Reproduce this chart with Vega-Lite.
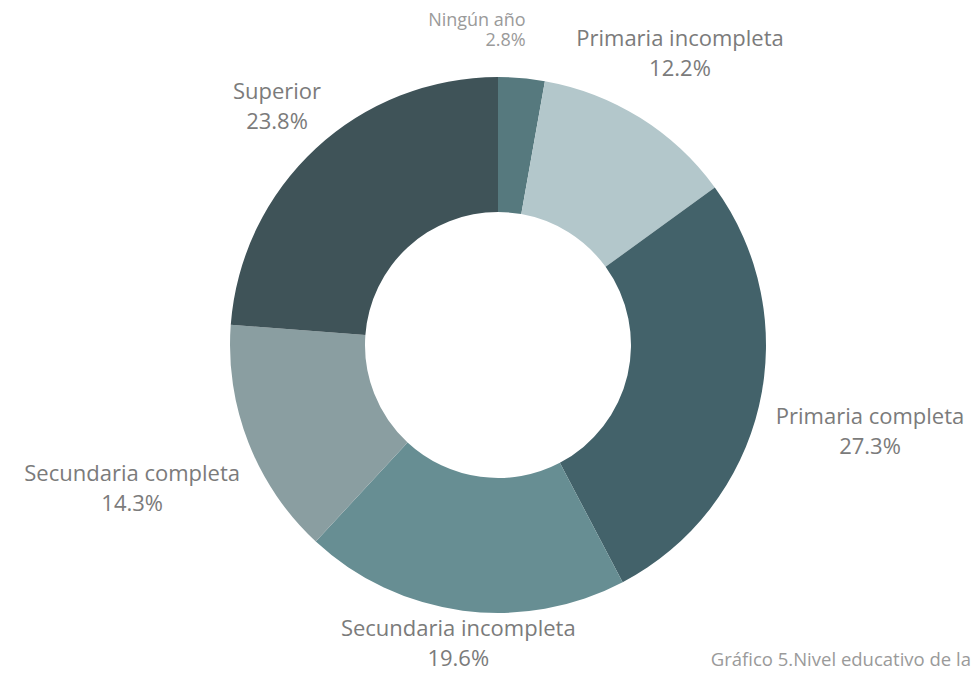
{
  "$schema": "https://vega.github.io/schema/vega-lite/v6.json",
  "autosize": "none",
  "width": 946,
  "height": 600,
  "padding": {"left": 25, "top": 45, "right": 0, "bottom": 29},
  "background": "white",
  "title": {"text": "Gráfico 5.Nivel educativo de la", "orient": "bottom", "anchor": "end", "frame": "group", "offset": 0, "dy": -80, "font": "Open Sans", "fontSize": 18.5, "fontWeight": "normal", "color": "#9a9a9a"},
  "data": {"values": [
    {"cat": "Ningún año", "pct": 2.8, "idx": 1},
    {"cat": "Primaria incompleta", "pct": 12.2, "idx": 2},
    {"cat": "Primaria completa", "pct": 27.3, "idx": 3},
    {"cat": "Secundaria incompleta", "pct": 19.6, "idx": 4},
    {"cat": "Secundaria completa", "pct": 14.3, "idx": 5},
    {"cat": "Superior", "pct": 23.8, "idx": 6}
  ]},
  "transform": [{"calculate": "datum.cat + '\\n' + format(datum.pct, '.1f') + '%'", "as": "label"}],
  "encoding": {
    "theta": {"field": "pct", "type": "quantitative", "stack": true},
    "order": {"field": "idx", "type": "quantitative"}
  },
  "layer": [
    {
      "mark": {"type": "arc", "innerRadius": 133, "outerRadius": 268},
      "encoding": {
        "color": {"field": "cat", "type": "nominal", "legend": null,
          "scale": {"domain": ["Ningún año", "Primaria incompleta", "Primaria completa", "Secundaria incompleta", "Secundaria completa", "Superior"],
                    "range": ["#56797e", "#b3c7cb", "#43626a", "#678e93", "#8a9ea1", "#3f5358"]}}
      }
    },
    {
      "mark": {"type": "text", "radius": 315, "dy": -10, "align": "right", "baseline": "middle", "lineBreak": "\n", "lineHeight": 20, "font": "Open Sans", "fontSize": 18, "color": "#9a9a9a"},
      "encoding": {"text": {"condition": {"test": "datum.cat === 'Ningún año'", "field": "label"}, "value": ""}}
    },
    {
      "mark": {"type": "text", "radius": 343, "dy": -15, "align": "center", "baseline": "middle", "lineBreak": "\n", "lineHeight": 30, "font": "Open Sans", "fontSize": 22, "color": "#7b7b7b"},
      "encoding": {"text": {"condition": {"test": "datum.cat === 'Primaria incompleta'", "field": "label"}, "value": ""}}
    },
    {
      "mark": {"type": "text", "radius": 382, "dy": -15, "align": "center", "baseline": "middle", "lineBreak": "\n", "lineHeight": 30, "font": "Open Sans", "fontSize": 22, "color": "#7b7b7b"},
      "encoding": {"text": {"condition": {"test": "datum.cat === 'Primaria completa'", "field": "label"}, "value": ""}}
    },
    {
      "mark": {"type": "text", "radius": 302, "dy": -15, "align": "center", "baseline": "middle", "lineBreak": "\n", "lineHeight": 30, "font": "Open Sans", "fontSize": 22, "color": "#7b7b7b"},
      "encoding": {"text": {"condition": {"test": "datum.cat === 'Secundaria incompleta'", "field": "label"}, "value": ""}}
    },
    {
      "mark": {"type": "text", "radius": 393, "dy": -15, "align": "center", "baseline": "middle", "lineBreak": "\n", "lineHeight": 30, "font": "Open Sans", "fontSize": 22, "color": "#7b7b7b"},
      "encoding": {"text": {"condition": {"test": "datum.cat === 'Secundaria completa'", "field": "label"}, "value": ""}}
    },
    {
      "mark": {"type": "text", "radius": 325, "dy": -15, "align": "center", "baseline": "middle", "lineBreak": "\n", "lineHeight": 30, "font": "Open Sans", "fontSize": 22, "color": "#7b7b7b"},
      "encoding": {"text": {"condition": {"test": "datum.cat === 'Superior'", "field": "label"}, "value": ""}}
    }
  ],
  "config": {"view": {"stroke": null}}
}
